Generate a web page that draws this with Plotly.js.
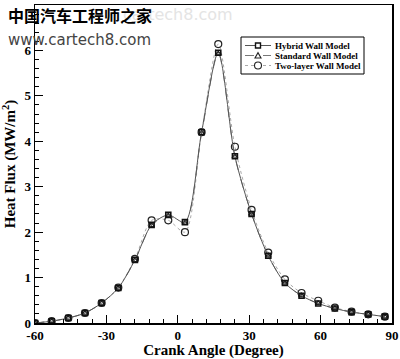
<!DOCTYPE html>
<html><head><meta charset="utf-8">
<script src="https://cdn.plot.ly/plotly-3.0.1.min.js"></script>
<style>html,body{margin:0;padding:0;background:#fff}#chart{width:400px;height:359px}</style>
</head><body><div id="chart"></div>
<script>
const angles = [-60,-53,-46,-39,-32,-25,-18,-11,-4,3,10,17,24,31,38,45,52,59,66,73,80,87];
const hybrid = [0,0.04,0.11,0.22,0.44,0.77,1.39,2.16,2.38,2.22,4.2,5.95,3.67,2.4,1.48,0.88,0.6,0.43,0.32,0.24,0.19,0.14];
const standard = [0,0.04,0.11,0.22,0.44,0.77,1.38,2.15,2.36,2.2,4.18,5.93,3.66,2.4,1.48,0.88,0.6,0.43,0.32,0.24,0.19,0.14];
const twoLayer = [0,0.04,0.11,0.22,0.44,0.78,1.41,2.26,2.26,2.0,4.2,6.14,3.88,2.49,1.55,0.96,0.66,0.49,0.34,0.25,0.19,0.14];
const seriesNames = ['Hybrid Wall Model','Standard Wall Model','Two-layer Wall Model'];
const xTicks = [-60,-30,0,30,60,90];
const yTicks = [0,1,2,3,4,5,6,7];

const serif = 'Liberation Serif, Times New Roman, serif';
const styles = [
  {line: {color: '#555', width: 1, dash: 'solid'}, marker: {symbol: 'square-open', size: 5, color: '#111', line: {width: 1.6}}},
  {line: {color: '#777', width: 1, dash: 'dash'}, marker: {symbol: 'triangle-up-open', size: 5, color: '#222', line: {width: 1.2}}},
  {line: {color: '#aaaaaa', width: 1, dash: 'dot'}, marker: {symbol: 'circle-open', size: 7, color: '#222', line: {width: 1.2}}}
];
const values = [hybrid, standard, twoLayer];
const traces = [2, 1, 0].map(i => ({
  x: angles, y: values[i], name: seriesNames[i], mode: 'lines+markers', showlegend: false,
  line: Object.assign({shape: 'spline', smoothing: 0.8}, styles[i].line),
  marker: styles[i].marker
}));

// custom compact legend (plot area: x 35..392 px, y 5..323 px)
const L = 35, W = 357, B = 323, H = 318;
const px = p => (p - L) / W, py = p => (B - p) / H;
const shapes = [{type: 'rect', xref: 'paper', yref: 'paper', x0: px(241), x1: px(364), y0: py(37), y1: py(74),
  line: {color: '#000', width: 1}, fillcolor: '#fff', layer: 'above'}];
const annotations = [];
const rows = [45.5, 55.5, 65.5];
rows.forEach((r, i) => {
  const st = styles[i];
  shapes.push({type: 'line', xref: 'paper', yref: 'paper', x0: px(245), x1: px(271), y0: py(r), y1: py(r),
    line: {color: st.line.color, width: 1, dash: st.line.dash}, layer: 'above'});
  const cx = 258;
  if (i === 0) shapes.push({type: 'rect', xref: 'paper', yref: 'paper', x0: px(cx - 2.5), x1: px(cx + 2.5), y0: py(r - 2.5), y1: py(r + 2.5),
    line: {color: '#111', width: 1.4}, fillcolor: '#fff', layer: 'above'});
  if (i === 1) shapes.push({type: 'path', xref: 'paper', yref: 'paper',
    path: `M ${px(cx - 3)} ${py(r + 2.5)} L ${px(cx + 3)} ${py(r + 2.5)} L ${px(cx)} ${py(r - 2.8)} Z`,
    line: {color: '#222', width: 1.1}, fillcolor: '#fff', layer: 'above'});
  if (i === 2) shapes.push({type: 'circle', xref: 'paper', yref: 'paper', x0: px(cx - 3.5), x1: px(cx + 3.5), y0: py(r - 3.5), y1: py(r + 3.5),
    line: {color: '#222', width: 1.1}, fillcolor: '#fff', layer: 'above'});
  annotations.push({xref: 'paper', yref: 'paper', x: px(274), y: py(r), xanchor: 'left', yanchor: 'middle', showarrow: false,
    borderpad: 0, text: seriesNames[i], font: {family: serif, size: 9, color: '#000', weight: 'bold'}});
});
annotations.push(
  {xref: 'paper', yref: 'paper', x: 0.24, y: 0.97, xanchor: 'left', yanchor: 'middle', showarrow: false,
   text: 'cartech8.com', font: {family: 'DejaVu Sans', size: 16, color: '#e4e4e4'}},
  {xref: 'paper', yref: 'paper', x: -0.08, y: 0.97, xanchor: 'left', yanchor: 'middle', showarrow: false,
   text: '中国汽车工程师之家', font: {family: 'Noto Sans CJK SC', size: 16, color: '#000', weight: 'bold'}},
  {xref: 'paper', yref: 'paper', x: -0.08, y: 0.89, xanchor: 'left', yanchor: 'middle', showarrow: false,
   text: 'www.cartech8.com', font: {family: 'DejaVu Sans', size: 15, color: '#444'}}
);

const layout = {
  width: 400, height: 359,
  margin: {l: 35, r: 8, t: 5, b: 36},
  paper_bgcolor: '#fff', plot_bgcolor: '#fff',
  showlegend: false,
  xaxis: {range: [-60, 90], tickvals: xTicks, ticktext: xTicks.map(String),
    showgrid: false, zeroline: false, showline: true, linecolor: '#000', linewidth: 1.5, mirror: true,
    ticks: 'inside', ticklen: 8, tickwidth: 1.2, tickcolor: '#000',
    minor: {dtick: 6, ticks: 'inside', ticklen: 4, tickcolor: '#000', tickwidth: 1, showgrid: false},
    tickfont: {family: serif, size: 13, color: '#000', weight: 'bold'},
    title: {text: 'Crank Angle (Degree)', standoff: 4, font: {family: serif, size: 15, color: '#000', weight: 'bold'}}},
  yaxis: {range: [0, 7], tickvals: yTicks, ticktext: yTicks.map(String),
    showgrid: false, zeroline: false, showline: true, linecolor: '#000', linewidth: 1.5, mirror: true,
    ticks: 'inside', ticklen: 8, tickwidth: 1.2, tickcolor: '#000',
    minor: {dtick: 0.2, ticks: 'inside', ticklen: 4, tickcolor: '#000', tickwidth: 1, showgrid: false},
    tickfont: {family: serif, size: 13, color: '#000', weight: 'bold'},
    title: {text: 'Heat Flux (MW/m<sup>2</sup>)', standoff: 6, font: {family: serif, size: 15, color: '#000', weight: 'bold'}}},
  shapes: shapes,
  annotations: annotations
};
Plotly.newPlot('chart', traces, layout, {displayModeBar: false, staticPlot: true});
</script></body></html>
